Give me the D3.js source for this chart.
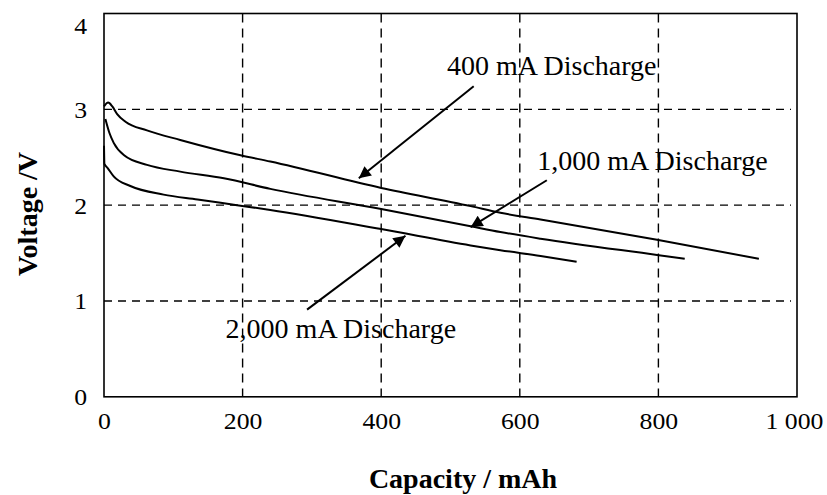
<!DOCTYPE html>
<html>
<head>
<meta charset="utf-8">
<script src="https://cdn.jsdelivr.net/npm/d3@7/dist/d3.min.js"></script>
<style>
  html, body { margin: 0; padding: 0; background: #fff; }
  svg { display: block; }
  text { font-family: "Liberation Serif", "Times New Roman", serif; fill: #000; }
</style>
</head>
<body>
<svg id="chart" width="827" height="495"></svg>
<script>
// ---- data ----
const xTicks = [0, 200, 400, 600, 800, 1000];
const xTickLabels = ["0", "200", "400", "600", "800", "1 000"];
const yTicks = [0, 1, 2, 3, 4];
const yTickLabels = ["0", "1", "2", "3", "4"];
const xGrid = [200, 400, 600, 800];
const yGrid = [1, 2, 3];

const cap400 = [0, 6, 12, 19, 31, 62, 110, 197, 240, 400, 529, 572, 630, 798, 945];
const volt400 = [3.03, 3.07, 3.03, 2.95, 2.87, 2.78, 2.68, 2.52, 2.455, 2.18, 1.99, 1.92, 1.85, 1.64, 1.44];

const cap1000 = [2, 8, 14, 29, 62, 110, 173, 240, 400, 529, 572, 630, 798, 838];
const volt1000 = [2.90, 2.75, 2.65, 2.52, 2.42, 2.35, 2.28, 2.17, 1.96, 1.78, 1.72, 1.65, 1.48, 1.44];

const cap2000 = [0, 0.6, 5, 14, 38, 86, 135, 192, 240, 400, 529, 572, 630, 682];
const volt2000 = [2.62, 2.43, 2.39, 2.30, 2.20, 2.11, 2.06, 2.00, 1.95, 1.75, 1.58, 1.53, 1.47, 1.41];

const seriesNames = ["400 mA Discharge", "1,000 mA Discharge", "2,000 mA Discharge"];
// label anchor (capacity, voltage) and arrow from/to in data units
const labelPos = [[495, 3.36], [625, 2.37], [175.5, 0.61]];
const arrowFrom = [[533.5, 3.24], [639, 2.26], [293, 0.91]];
const arrowTo = [[367.7, 2.28], [529, 1.77], [435, 1.68]];

const xTitle = "Capacity / mAh";
const yTitle = "Voltage /V";

// ---- layout ----
const svg = d3.select("#chart");
const L = 104, R = 797, T = 13.5, B = 396.8;
const x = d3.scaleLinear().domain([0, 1000]).range([L, R]);
const y = d3.scaleLinear().domain([0, 4]).range([B, T]);
const SX = 1.12;

// gridlines
svg.append("g").selectAll("line").data(yGrid).join("line")
  .attr("x1", L).attr("x2", R - 6)
  .attr("y1", d => y(d)).attr("y2", d => y(d))
  .attr("stroke", "#000").attr("stroke-width", 1.4)
  .attr("stroke-dasharray", "8,6");
svg.append("g").selectAll("line").data(xGrid).join("line")
  .attr("x1", d => x(d)).attr("x2", d => x(d))
  .attr("y1", T).attr("y2", B)
  .attr("stroke", "#000").attr("stroke-width", 1.4)
  .attr("stroke-dasharray", "9,6");

// frame
svg.append("rect").attr("x", L).attr("y", T).attr("width", R - L).attr("height", B - T)
  .attr("fill", "none").attr("stroke", "#000").attr("stroke-width", 1.6);

// axes (labels only)
const xAxis = d3.axisBottom(x).tickValues(xTicks).tickFormat((d, i) => xTickLabels[i]).tickSize(0).tickPadding(0);
const gx = svg.append("g").attr("transform", `translate(0,${B})`).call(xAxis);
gx.select(".domain").remove();
gx.selectAll("text").attr("font-size", 23)
  .attr("dy", null).attr("y", null)
  .attr("transform", (d) => `translate(${d === 1000 ? -3 : 0},32) scale(${SX},1)`);

const yAxis = d3.axisLeft(y).tickValues(yTicks).tickFormat((d, i) => yTickLabels[i]).tickSize(0).tickPadding(0);
const gy = svg.append("g").attr("transform", `translate(${L},0)`).call(yAxis);
gy.select(".domain").remove();
gy.selectAll("text").attr("font-size", 23)
  .attr("x", null).attr("dy", null)
  .attr("text-anchor", "end")
  .attr("transform", d => `translate(-17,${d === 4 ? 20 : 8}) scale(${SX},1)`);

// curves
const line = d3.line().x(d => x(d[0])).y(d => y(d[1])).curve(d3.curveMonotoneX);
const series = [
  d3.zip(cap400, volt400),
  d3.zip(cap1000, volt1000),
  d3.zip(cap2000, volt2000)
];
svg.append("g").selectAll("path").data(series).join("path")
  .attr("d", line).attr("fill", "none").attr("stroke", "#000").attr("stroke-width", 2);

// arrows
svg.append("defs").append("marker")
  .attr("id", "ah").attr("viewBox", "0 0 10 10").attr("refX", 10).attr("refY", 5)
  .attr("markerWidth", 16).attr("markerHeight", 12).attr("markerUnits", "userSpaceOnUse")
  .attr("orient", "auto")
  .append("path").attr("d", "M0,0 L10,5 L0,10 Z").attr("fill", "#000");
svg.append("g").selectAll("line").data(seriesNames).join("line")
  .attr("x1", (d, i) => x(arrowFrom[i][0])).attr("y1", (d, i) => y(arrowFrom[i][1]))
  .attr("x2", (d, i) => x(arrowTo[i][0])).attr("y2", (d, i) => y(arrowTo[i][1]))
  .attr("stroke", "#000").attr("stroke-width", 2).attr("marker-end", "url(#ah)");

// labels
svg.append("g").selectAll("text").data(seriesNames).join("text")
  .attr("x", (d, i) => x(labelPos[i][0])).attr("y", (d, i) => y(labelPos[i][1]))
  .attr("font-size", 28).text(d => d);

// axis titles
svg.append("text").attr("x", 463).attr("y", 488).attr("text-anchor", "middle")
  .attr("font-size", 28).attr("font-weight", "bold").text(xTitle);
svg.append("text").attr("transform", `translate(37,214) rotate(-90)`).attr("text-anchor", "middle")
  .attr("font-size", 28).attr("font-weight", "bold").text(yTitle);
</script>
</body>
</html>
